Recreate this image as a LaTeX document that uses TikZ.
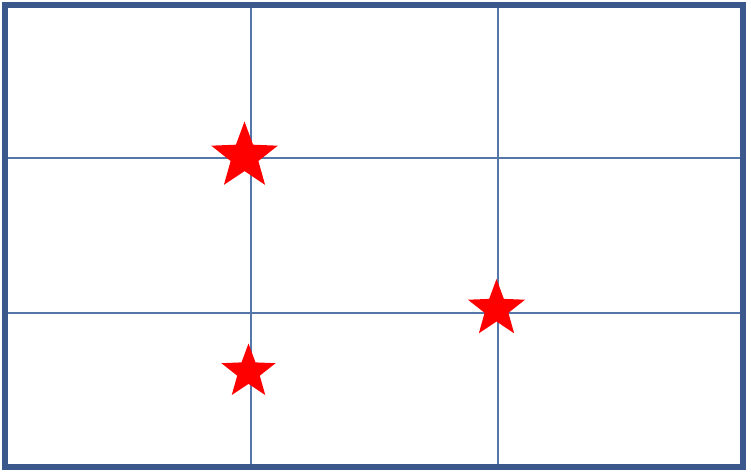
\documentclass[tikz,border=0pt]{standalone}
\usetikzlibrary{shapes.geometric}
\definecolor{framec}{RGB}{58,88,140}
\definecolor{gridc}{RGB}{84,118,168}
\definecolor{starc}{RGB}{255,0,0}
\tikzset{
  gridline/.style={draw=gridc, line width=2bp},
  frameline/.style={draw=framec, line width=6bp},
  redstar/.style={star, star points=5, star point ratio=2.4, fill=starc, draw=none, inner sep=0pt}
}
\begin{document}
\begin{tikzpicture}[x=1bp,y=-1bp]
\useasboundingbox (0,0) rectangle (751,474);
\fill[white] (0,0) rectangle (751,474);
% corners of the frame
\coordinate (tl) at (5,5);
\coordinate (br) at (743,467);
% grid line ends
\coordinate (v1t) at (251,5);   \coordinate (v1b) at (251,467);
\coordinate (v2t) at (498,5);   \coordinate (v2b) at (498,467);
\coordinate (h1l) at (5,158.5); \coordinate (h1r) at (743,158.5);
\coordinate (h2l) at (5,313);   \coordinate (h2r) at (743,313);
\draw[gridline] (v1t) -- (v1b);
\draw[gridline] (v2t) -- (v2b);
\draw[gridline] (h1l) -- (h1r);
\draw[gridline] (h2l) -- (h2r);
\draw[frameline] (tl) rectangle (br);
\node[redstar, minimum size=70bp] (s1) at (244.5,156.5) {};
\node[redstar, minimum size=60bp] (s2) at (496.5,309) {};
\node[redstar, minimum size=57bp] (s3) at (248.5,372) {};
\end{tikzpicture}
\end{document}
